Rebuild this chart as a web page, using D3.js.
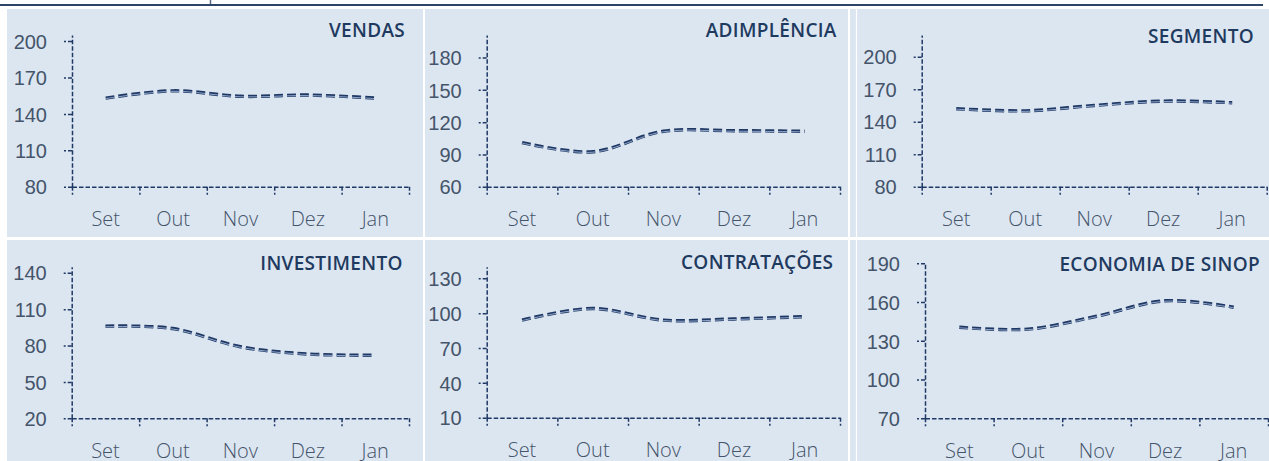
<!DOCTYPE html>
<html>
<head>
<meta charset="utf-8">
<script src="https://cdn.jsdelivr.net/npm/d3@7"></script>
<style>
  body { margin: 0; background: #fff; }
  svg { display: block; font-family: "Open Sans", sans-serif; }
  .tick text { fill: #44546a; font-size: 20px; font-weight: 300; }
</style>
</head>
<body>
<div id="chart"></div>
<script>
// categories
const months = ["Set", "Out", "Nov", "Dez", "Jan"];
const titles = ["VENDAS", "ADIMPLÊNCIA", "SEGMENTO", "INVESTIMENTO", "CONTRATAÇÕES", "ECONOMIA DE SINOP"];

// series values
const vendas = [153, 159, 154.5, 155.5, 153];
const adimplencia = [101, 92.5, 111.5, 112, 111.5];
const segmento = [152, 150, 155, 159, 157.5];
const investimento = [96, 94, 79, 73, 72];
const contratacoes = [94, 104, 94, 95, 97];
const economia = [140.5, 139, 149, 161, 156];

// y axis tick labels + axis max
const vendasTicks = [80, 110, 140, 170, 200];
const adimplenciaTicks = [60, 90, 120, 150, 180];
const segmentoTicks = [80, 110, 140, 170, 200];
const investimentoTicks = [20, 50, 80, 110, 140];
const contratacoesTicks = [10, 40, 70, 100, 130];
const economiaTicks = [70, 100, 130, 160, 190];
const axisMax = [205, 201, 220, 145, 140, 190];

const series = [vendas, adimplencia, segmento, investimento, contratacoes, economia];
const ticks = [vendasTicks, adimplenciaTicks, segmentoTicks, investimentoTicks, contratacoesTicks, economiaTicks];

// panel boxes and plot areas
const layout = [
  { px: 7, py: 9, pw: 416, ph: 228, x0: 72, x1: 409, y0: 35, y1: 186.7, tx: 405, ty: 37.3 },
  { px: 425, py: 9, pw: 423, ph: 228, x0: 486.7, x1: 840, y0: 35, y1: 186.7, tx: 836.7, ty: 37.3 },
  { px: 850, py: 9, pw: 419, ph: 228, x0: 921.7, x1: 1266.7, y0: 35, y1: 186.7, tx: 1254, ty: 42.5 },
  { px: 7, py: 240, pw: 416, ph: 221, x0: 71.7, x1: 409, y0: 266.7, y1: 418.3, tx: 402.7, ty: 270 },
  { px: 425, py: 240, pw: 423, ph: 221, x0: 486.7, x1: 840, y0: 266.7, y1: 417.7, tx: 833.3, ty: 269 },
  { px: 850, py: 240, pw: 419, ph: 221, x0: 925, x1: 1268, y0: 263.3, y1: 418.3, tx: 1260, ty: 271 }
];

const W = 1269, H = 461;
const navy = "#1f3864";

const svg = d3.select("#chart").append("svg")
  .attr("width", W)
  .attr("height", H);

// header rule
svg.append("line")
  .attr("x1", 0).attr("x2", 1263)
  .attr("y1", 5).attr("y2", 5)
  .attr("stroke", "#2c4468")
  .attr("stroke-width", 2);
svg.append("line")
  .attr("x1", 210.5).attr("x2", 210.5)
  .attr("y1", 0).attr("y2", 4)
  .attr("stroke", "#5a6b80")
  .attr("stroke-width", 1.5);

layout.forEach((L, i) => {
  const g = svg.append("g");

  g.append("rect")
    .attr("x", L.px).attr("y", L.py)
    .attr("width", L.pw).attr("height", L.ph)
    .attr("fill", "#dce6f1");

  if (i === 2 || i === 5) {
    g.append("line")
      .attr("x1", 856.5).attr("x2", 856.5)
      .attr("y1", L.py).attr("y2", L.py + L.ph)
      .attr("stroke", "#fff")
      .attr("stroke-width", 1.2);
  }

  const y = d3.scaleLinear()
    .domain([ticks[i][0], axisMax[i]])
    .range([L.y1, L.y0]);

  const xEdge = d3.scaleLinear()
    .domain([0, months.length])
    .range([L.x0, L.x1]);

  const xBand = d3.scaleBand()
    .domain(months)
    .range([L.x0, L.x1]);

  // y axis
  const yAxis = g.append("g")
    .attr("transform", `translate(${L.x0},0)`)
    .call(d3.axisLeft(y).tickValues(ticks[i]).tickSize(8).tickSizeOuter(0).tickPadding(17));

  // x axis
  const xAxis = g.append("g")
    .attr("transform", `translate(0,${L.y1})`)
    .call(d3.axisBottom(xEdge).tickValues(d3.range(0, months.length + 1)).tickSize(8).tickSizeOuter(0).tickFormat(""));

  [yAxis, xAxis].forEach(a => {
    a.select(".domain")
      .attr("stroke", navy)
      .attr("stroke-width", 1.5)
      .attr("stroke-dasharray", "4.5,2");
    a.selectAll(".tick line")
      .attr("stroke", navy)
      .attr("stroke-width", 1.5)
      .attr("stroke-dasharray", "4,2");
  });
  yAxis.selectAll(".tick text").attr("dy", "0.36em");

  // month labels
  g.selectAll(".mlabel")
    .data(months)
    .join("text")
    .attr("class", "mlabel")
    .attr("x", d => xBand(d) + xBand.bandwidth() / 2)
    .attr("y", L.y1 + 39.5)
    .attr("text-anchor", "middle")
    .attr("fill", "#44546a")
    .attr("font-size", 20)
    .attr("font-weight", 300)
    .text(d => d);

  // title
  g.append("text")
    .attr("x", L.tx)
    .attr("y", L.ty)
    .attr("text-anchor", "end")
    .attr("fill", "#1f3a5f")
    .attr("font-size", 19)
    .attr("font-weight", 600)
    .attr("letter-spacing", "0.3px")
    .text(titles[i]);

  const line = d3.line()
    .x((d, j) => xBand(months[j]) + xBand.bandwidth() / 2)
    .y(d => y(d))
    .curve(d3.curveCatmullRom.alpha(0.5));

  g.append("path")
    .datum(series[i])
    .attr("fill", "none")
    .attr("stroke", navy)
    .attr("stroke-width", 3.4)
    .attr("stroke-dasharray", "9,4")
    .attr("d", line);

  g.append("path")
    .datum(series[i])
    .attr("fill", "none")
    .attr("stroke", "#9fb4d6")
    .attr("stroke-width", 0.9)
    .attr("stroke-dasharray", "9,4")
    .attr("transform", "translate(0,0.5)")
    .attr("d", line);
});
</script>
</body>
</html>
